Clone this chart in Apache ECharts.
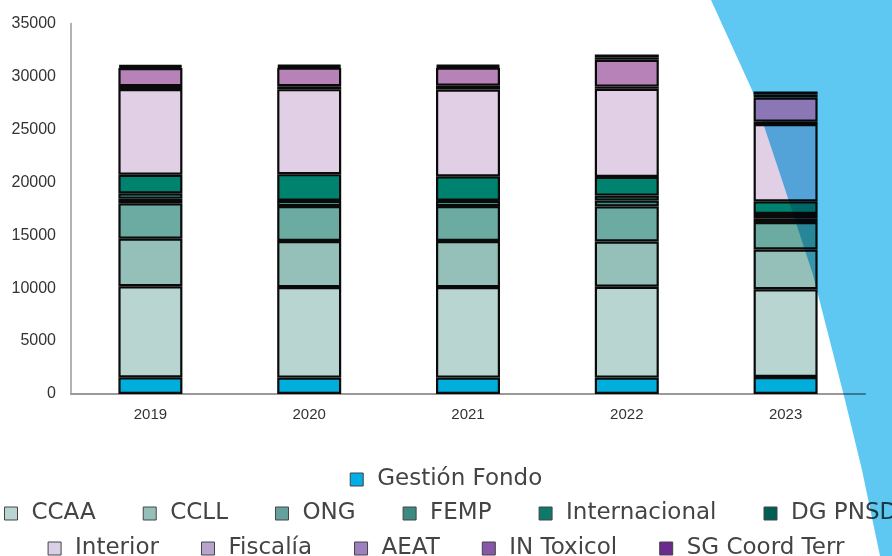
<!DOCTYPE html>
<html>
<head>
<meta charset="utf-8">
<script src="https://cdn.jsdelivr.net/npm/echarts@6/dist/echarts.min.js"></script>
<style>
  html, body { margin: 0; padding: 0; background: #fff; }
  #chart { width: 892px; height: 556px; }
</style>
</head>
<body>
<div id="chart"></div>
<script>
// categorias
var years = ['2019', '2020', '2021', '2022', '2023'];

// importes por destinatario (de abajo a arriba en la pila)
var gestionFondo  = [1575, 1550, 1550, 1550, 1600];
var ccaa          = [8600, 8550, 8550, 8580, 8290];
var ccll          = [4500, 4350, 4350, 4270, 3760];
var ong           = [3340, 3300, 3300, 3320, 2590];
var femp          = [420, 490, 490, 550, 360];
var internacional = [520, 30, 30, 470, 400];
var dgPnsd        = [1760, 2500, 2290, 1770, 1200];
var interior      = [8090, 8030, 8200, 8320, 7300];
var fiscalia      = [280, 280, 370, 210, 230];
var aeat          = [1700, 1750, 1700, 2530, 2270];
var inToxicol     = [150, 130, 130, 250, 300];
var sgCoordTerr   = [140, 110, 110, 240, 270];

var names = ['Gestión Fondo', 'CCAA', 'CCLL', 'ONG', 'FEMP', 'Internacional', 'DG PNSD',
             'Interior', 'Fiscalía', 'AEAT', 'IN Toxicol', 'SG Coord Terr'];
var values = [gestionFondo, ccaa, ccll, ong, femp, internacional, dgPnsd,
              interior, fiscalia, aeat, inToxicol, sgCoordTerr];

// colores de las barras y de la leyenda
var barColors = ['#00aedb', '#b9d5d1', '#94c0b9', '#6caba1', '#3a9082', '#1a8577', '#00836e',
                 '#e1d0e5', '#9d80bd', '#b782b8', '#8957a8', '#6a2a8e'];
var legendColors = ['#00aee8', '#b8d5d3', '#95c0b9', '#64a19d', '#3d8b80', '#0e786a', '#005f55',
                    '#dad0e6', '#b8a3cd', '#9d80bd', '#8957a8', '#6a2a8e'];

var chart = echarts.init(document.getElementById('chart'));

var series = names.map(function (name, i) {
  var s = {
    name: name,
    type: 'bar',
    stack: 'total',
    barWidth: 64,
    data: values[i],
    itemStyle: {
      color: barColors[i],
      borderColor: '#0a0a0a',
      borderWidth: 2.2
    }
  };
  if (name === 'AEAT') {
    // el tramo de 2023 queda bajo la forma azul
    s.z = 150;
    s.itemStyle.color = function (p) { return p.dataIndex === 4 ? '#8b77b5' : barColors[i]; };
  }
  return s;
});

function legendData(from, to) {
  var out = [];
  for (var i = from; i < to; i++) {
    out.push({ name: names[i], itemStyle: { color: legendColors[i], borderColor: '#444', borderWidth: 1 } });
  }
  return out;
}

var legendText = { fontFamily: 'DejaVu Sans', fontSize: 23, color: '#444', padding: [0, 0, 0, 9] };
var legendBase = { padding: 0, icon: 'rect', itemWidth: 13, itemHeight: 13, textStyle: legendText };

var option = {
  backgroundColor: '#fff',
  animation: false,
  grid: { left: 71, right: 27, top: 23.5, bottom: 162 },
  legend: [
    Object.assign({}, legendBase, { left: 'center', top: 468, itemGap: 45, data: legendData(0, 1) }),
    Object.assign({}, legendBase, { left: 4, top: 502, width: 1200, itemGap: 47, data: legendData(1, 7) }),
    Object.assign({}, legendBase, { left: 'center', top: 537, itemGap: 42, data: legendData(7, 12) })
  ],
  xAxis: {
    type: 'category',
    data: years,
    axisTick: { show: false },
    axisLine: { lineStyle: { color: '#9a9a9a', width: 2 } },
    axisLabel: { fontFamily: 'Liberation Sans', fontSize: 15, color: '#333', margin: 13 }
  },
  yAxis: {
    type: 'value',
    min: 0,
    max: 35000,
    interval: 5000,
    splitLine: { show: false },
    axisTick: { show: false },
    axisLine: { show: true, lineStyle: { color: '#9a9a9a', width: 1.5 } },
    axisLabel: {
      fontFamily: 'Liberation Sans', fontSize: 16, color: '#333', margin: 15,
      formatter: function (v) { return String(v); }
    }
  },
  graphic: [{
    type: 'polygon',
    z: 100,
    silent: true,
    shape: {
      points: [[711, 0], [752, 90], [782, 180], [813, 275], [845, 400], [862, 470], [880, 556], [892, 556], [892, 0]]
    },
    style: { fill: '#5ec8f2', blend: 'multiply' }
  }],
  series: series
};

chart.setOption(option);
</script>
</body>
</html>
